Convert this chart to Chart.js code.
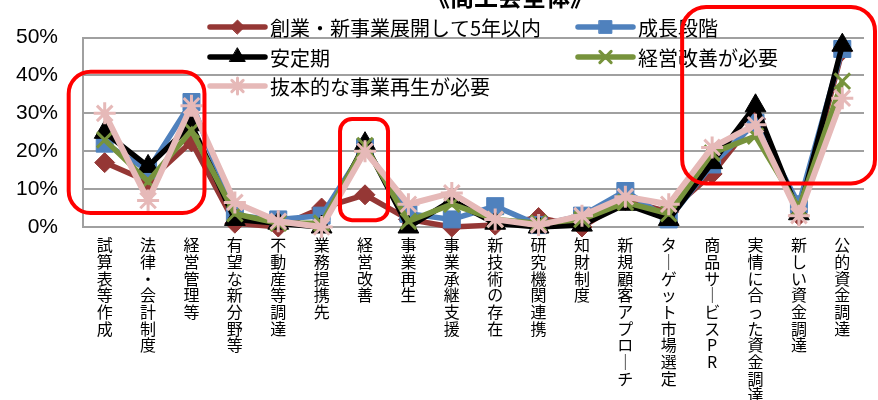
<!DOCTYPE html>
<html><head><meta charset="utf-8">
<script src="https://cdn.jsdelivr.net/npm/chart.js@4.4.0/dist/chart.umd.min.js"></script>
<style>html,body{margin:0;padding:0;background:#fff;overflow:hidden}#wrap{width:878px;height:400px;position:relative}</style>
</head><body><div id="wrap"><canvas id="c" width="878" height="400"></canvas></div>
<script>
const titleText = "《商工会全体》";
const categories = ["試算表等作成","法律・会計制度","経営管理等","有望な新分野等","不動産等調達","業務提携先","経営改善","事業再生","事業承継支援","新技術の存在","研究機関連携","知財制度","新規顧客アプローチ","ターゲット市場選定","商品サービスPR","実情に合った資金調達","新しい資金調達","公的資金調達"];
const seriesNames = ["創業・新事業展開して5年以内","成長段階","安定期","経営改善が必要","抜本的な事業再生が必要"];
const sogyo      = [17, 12, 22.5, 1,   0,   5, 8.5, 2,   0, 0.5, 2.5, 0,   7,   4,   14,   28.5, 3,   46.5];
const seicho     = [22, 15, 33,   3,   2,   3, 21,  3.5, 2, 5.5, 0.5, 3,   9.5, 2,   16.5, 27.5, 6,   47];
const antei      = [25, 16, 27,   2,   1,   0, 22,  0,   7, 1,   0,   0.5, 6,   2,   17,   32,   3.5, 48];
const kaizen     = [23, 12, 25.5, 3.5, 1,   1, 21.5,1.5, 6, 2,   1,   2,   6.5, 3.5, 19.5, 24,   5,   38.5];
const bapponteki = [30, 7,  32,   6.5, 1.5, 0, 20,  6,   9, 2,   0.5, 3,   8,   6,   21,   27,   3,   34];
const yTicks = [0, 10, 20, 30, 40, 50];

const seriesValues = [sogyo, seicho, antei, kaizen, bapponteki];
const styles = [
  {color:'#953735', point:'rectRot',  r:10, bw:1, lw:5.5},
  {color:'#4F81BD', point:'rect',     r:12, bw:1, lw:5.5},
  {color:'#000000', point:'triangle', r:12, bw:1, lw:5.5},
  {color:'#77933C', point:'crossRot', r:11, bw:3, lw:5.5},
  {color:'#E6B9B8', point:'star',     r:11, bw:3, lw:6}
];
const verticalLabels = categories.map(c => Array.from(c.replace(/ー/g, '｜')));

const datasets = seriesNames.map((n, i) => ({
  label: n,
  data: seriesValues[i],
  borderColor: styles[i].color,
  backgroundColor: styles[i].color,
  pointStyle: styles[i].point,
  pointRadius: styles[i].r,
  pointHoverRadius: styles[i].r,
  pointBorderColor: styles[i].color,
  pointBackgroundColor: styles[i].color,
  pointBorderWidth: styles[i].bw,
  borderWidth: styles[i].lw,
  tension: 0,
  order: 5 - i,
  clip: false
}));

const overlay = {
  id: 'overlay',
  afterDraw(chart) {
    const c = chart.ctx;
    const xs = chart.scales.x, ys = chart.scales.y;
    // legend
    const legendPos = [[210, 27], [578, 27], [210, 57], [578, 57], [210, 86]];
    c.save();
    seriesNames.forEach((n, i) => {
      const [lx, ly] = legendPos[i];
      c.strokeStyle = styles[i].color;
      c.lineWidth = 5.5;
      c.lineCap = 'round';
      c.beginPath(); c.moveTo(lx, ly); c.lineTo(lx + 55, ly); c.stroke();
      c.fillStyle = styles[i].color;
      c.lineWidth = styles[i].bw;
      Chart.helpers.drawPoint(c, {pointStyle: styles[i].point, radius: styles[i].r - 3, rotation: 0, borderWidth: styles[i].bw}, lx + 27.5, ly);
      c.fillStyle = '#000';
      c.font = '20px "Noto Sans CJK JP"';
      c.textBaseline = 'middle';
      c.textAlign = 'left';
      c.fillText(n, lx + 60, ly + 1);
    });
    // title (cut off at top)
    c.font = 'bold 24px "Noto Sans CJK JP"';
    c.textAlign = 'center';
    c.textBaseline = 'alphabetic';
    c.fillStyle = '#000';
    c.fillText(titleText, 510, 6);
    // red rounded rectangles
    c.strokeStyle = '#FF0000';
    c.lineWidth = 4;
    const rr = (l, t, r, b, rad) => {
      c.beginPath();
      c.roundRect(l, t, r - l, b - t, rad);
      c.stroke();
    };
    rr(xs.getPixelForValue(0) - 36, ys.getPixelForValue(41), xs.getPixelForValue(2) + 13, ys.getPixelForValue(3.7), 22);
    rr(xs.getPixelForValue(6) - 25, ys.getPixelForValue(28.5), xs.getPixelForValue(6) + 23, ys.getPixelForValue(1.8), 12);
    rr(xs.getPixelForValue(14) - 30, 7, chart.width - 3, ys.getPixelForValue(11.5), 24);
    c.restore();
  }
};

new Chart(document.getElementById('c'), {
  type: 'line',
  data: { labels: verticalLabels, datasets },
  options: {
    responsive: false,
    animation: false,
    devicePixelRatio: 1,
    layout: { padding: { top: 37, right: 0, bottom: 0, left: 0 } },
    plugins: { legend: { display: false }, tooltip: { enabled: false }, title: { display: false } },
    scales: {
      x: {
        type: 'category',
        offset: true,
        grid: { display: false, drawTicks: false },
        border: { display: false },
        ticks: {
          autoSkip: false, maxRotation: 0, minRotation: 0,
          color: '#000', padding: 10,
          font: { family: '"Noto Sans CJK JP"', size: 16, lineHeight: 1.04 }
        },
        afterFit(scale) { scale.height = 173; }
      },
      y: {
        min: 0, max: 50,
        afterBuildTicks(scale) { scale.ticks = yTicks.map(v => ({ value: v })); },
        grid: { color: '#A0A0A0', lineWidth: 2, drawTicks: false },
        border: { display: true, color: '#A0A0A0', width: 2 },
        ticks: {
          color: '#000', padding: 25,
          font: { family: '"Liberation Sans"', size: 21 },
          callback: v => v + '%'
        },
        afterFit(scale) { scale.width = 83; }
      }
    }
  },
  plugins: [overlay]
});
</script></body></html>
